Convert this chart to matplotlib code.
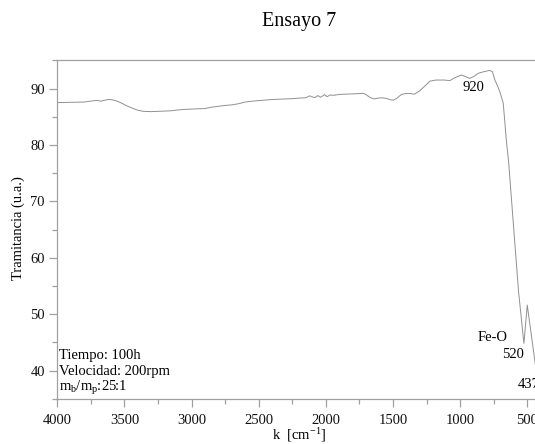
import matplotlib
matplotlib.use("Agg")
import matplotlib.pyplot as plt
from matplotlib.ticker import MultipleLocator

plt.rcParams['font.family'] = ['Liberation Serif', 'DejaVu Serif']
plt.rcParams['mathtext.fontset'] = 'custom'
plt.rcParams['mathtext.rm'] = 'Liberation Serif'
plt.rcParams['mathtext.it'] = 'Liberation Serif:italic'

# Spectrum: wavenumber (cm^-1) and transmittance (u.a.)
wavenumber = [4000, 3900, 3800, 3740, 3700, 3680, 3650, 3620, 3590, 3560,
              3520, 3480, 3440, 3400, 3360, 3300, 3250, 3200, 3150, 3100,
              3050, 3000, 2950, 2900, 2850, 2800, 2750, 2700, 2650, 2600,
              2550, 2500, 2450, 2400, 2350, 2300, 2250, 2200, 2150, 2120,
              2100, 2080, 2060, 2040, 2010, 1990, 1970, 1940, 1900, 1850,
              1800, 1750, 1720, 1700, 1670, 1640, 1610, 1580, 1550, 1520,
              1495, 1470, 1440, 1410, 1370, 1340, 1300, 1260, 1225, 1180,
              1120, 1076, 1050, 1020, 990, 960, 930, 900, 865, 820,
              780, 760, 741, 720, 704, 679, 654, 640, 565, 525,
              500, 443, 437, 400]
transmittance = [87.5, 87.55, 87.6, 87.8, 87.9, 87.75, 87.9, 88.05, 88.0, 87.8,
                 87.4, 86.9, 86.5, 86.15, 85.95, 85.9, 85.95, 86.0, 86.05, 86.2,
                 86.3, 86.35, 86.4, 86.45, 86.7, 86.85, 87.0, 87.1, 87.3, 87.6,
                 87.75, 87.85, 87.95, 88.05, 88.1, 88.15, 88.2, 88.3, 88.35, 88.7,
                 88.5, 88.4, 88.75, 88.45, 88.9, 88.55, 88.85, 88.8, 88.95, 89.0,
                 89.05, 89.1, 89.15, 88.9, 88.4, 88.15, 88.3, 88.35, 88.25, 88.0,
                 87.95, 88.3, 88.9, 89.1, 89.1, 89.0, 89.6, 90.5, 91.3, 91.5,
                 91.5, 91.4, 91.8, 92.1, 92.4, 92.1, 91.8, 92.1, 92.7, 93.0,
                 93.2, 93.0, 91.5, 90.4, 89.4, 87.4, 80.3, 77.3, 54.0, 44.8,
                 51.6, 41.6, 40.6, 43.5]

x_ticks = [4000, 3500, 3000, 2500, 2000, 1500, 1000, 500]
y_ticks = [40, 50, 60, 70, 80, 90]

info_lines = ["Tiempo: 100h", "Velocidad: 200rpm",
              r"m$_{\mathrm{b}}$/m$_{\mathrm{p}}$:25:1"]

W, H = 535, 444
fig = plt.figure(figsize=(W / 100, H / 100), dpi=100)
x0, x1 = 57.3, 540.7
y0, y1 = 60.3, 398.7
ax = fig.add_axes([x0 / W, 1 - y1 / H, (x1 - x0) / W, (y1 - y0) / H])

ax.plot(wavenumber, transmittance, color='#909090', lw=0.7)
ax.set_xlim(4000, 400)
ax.set_ylim(35, 95)
ax.set_xticks(x_ticks)
ax.set_yticks(y_ticks)
ax.xaxis.set_minor_locator(MultipleLocator(250))
ax.yaxis.set_minor_locator(MultipleLocator(5))

spine_col = '#a0a0a0'
for s in ['left', 'bottom', 'top', 'right']:
    ax.spines[s].set_color(spine_col)
    ax.spines[s].set_linewidth(0.9)
ax.tick_params(which='both', direction='out', color=spine_col, width=0.9,
               labelsize=10.5, labelcolor='#111111')
ax.tick_params(which='major', length=6)
ax.tick_params(which='minor', length=3.3)
ax.tick_params(axis='x', which='major', pad=5)
ax.tick_params(axis='y', which='major', pad=3)
ax.tick_params(top=False, right=False, which='both')

# annotations (data coordinates)
ax.text(904, 90.1, "920", ha='center', va='center', fontsize=10.5)
ax.text(759, 45.8, "Fe-O", ha='center', va='center', fontsize=10.5)
ax.text(525, 42.8, "520", ha='right', va='center', fontsize=10.5)
ax.text(569, 37.5, "437", ha='left', va='center', fontsize=10.5)

for i, t in enumerate(info_lines):
    ax.text(3985, 42.7 - i * 2.93, t, ha='left', va='center', fontsize=10.5)

fig.text(299 / W, 1 - 21.7 / H, "Ensayo 7", ha='center', va='center', fontsize=14.5)
fig.text(18 / W, 1 - 228 / H, "Tramitancia (u.a.)", ha='center', va='center',
         rotation=90, fontsize=10.5)
fig.text(299 / W, 1 - 435 / H, r"k  [cm$^{\mathrm{-1}}$]", ha='center', va='center',
         fontsize=10.5)

fig.savefig("out.png", dpi=100)
